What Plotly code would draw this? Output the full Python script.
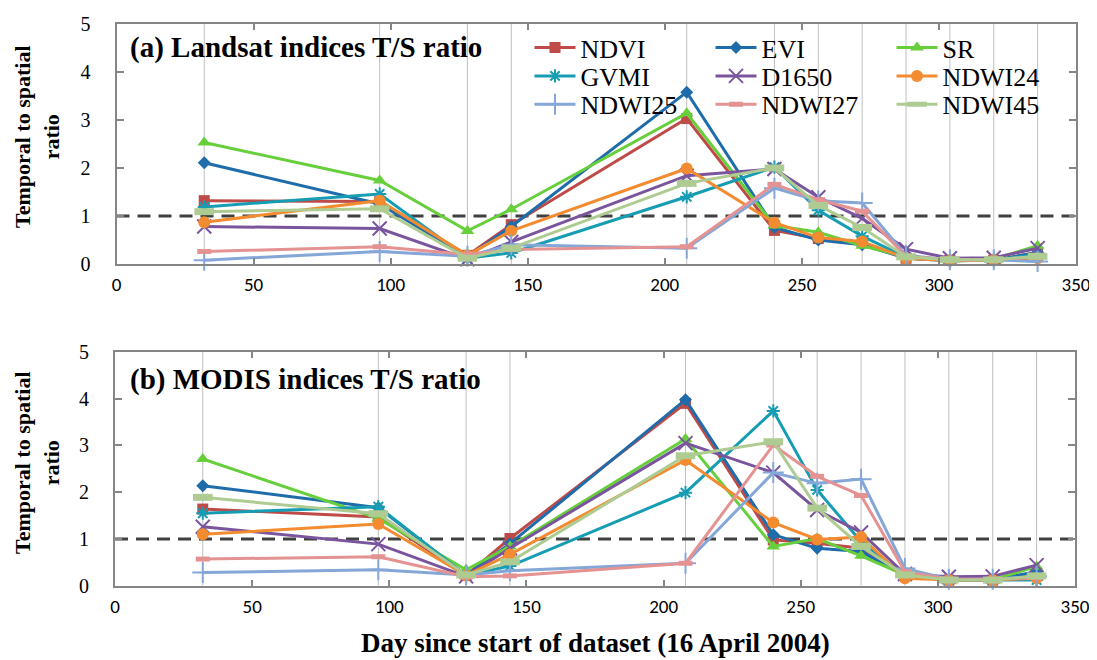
import plotly.graph_objects as go

# page body has an 8px default margin: lay the figure out in reference pixels minus that offset
OFF = 8
W, H = 1097 - OFF, 660 - OFF

DAYS = [32, 96, 128, 144, 208, 240, 256, 272, 288, 304, 320, 336]
SERIES = ["NDVI", "EVI", "SR", "GVMI", "D1650", "NDWI24", "NDWI25", "NDWI27", "NDWI45"]

# (a) Landsat T/S ratio
L_NDVI = [1.32, 1.30, 0.18, 0.82, 3.03, 0.70, 0.53, 0.45, 0.12, 0.08, 0.08, 0.24]
L_EVI = [2.11, 1.25, 0.15, 0.78, 3.58, 0.76, 0.50, 0.40, 0.12, 0.07, 0.08, 0.24]
L_SR = [2.53, 1.74, 0.69, 1.14, 3.14, 0.80, 0.66, 0.38, 0.15, 0.08, 0.10, 0.38]
L_GVMI = [1.19, 1.46, 0.12, 0.23, 1.40, 2.02, 1.12, 0.58, 0.14, 0.07, 0.08, 0.20]
L_D1650 = [0.78, 0.74, 0.10, 0.46, 1.84, 1.98, 1.39, 0.95, 0.31, 0.12, 0.13, 0.33]
L_NDWI24 = [0.87, 1.32, 0.18, 0.69, 1.99, 0.86, 0.55, 0.47, 0.12, 0.07, 0.08, 0.12]
L_NDWI25 = [0.08, 0.26, 0.16, 0.40, 0.33, 1.58, 1.32, 1.27, 0.18, 0.09, 0.09, 0.05]
L_NDWI27 = [0.26, 0.36, 0.20, 0.30, 0.36, 1.66, 1.34, 1.10, 0.16, 0.09, 0.09, 0.15]
L_NDWI45 = [1.09, 1.15, 0.12, 0.33, 1.68, 2.00, 1.22, 0.76, 0.15, 0.09, 0.09, 0.16]

# (b) MODIS T/S ratio
M_NDVI = [1.64, 1.47, 0.22, 1.01, 3.90, 0.98, 0.91, 0.80, 0.22, 0.12, 0.12, 0.25]
M_EVI = [2.14, 1.67, 0.22, 0.90, 3.98, 1.09, 0.80, 0.73, 0.22, 0.12, 0.12, 0.30]
M_SR = [2.71, 1.44, 0.34, 0.84, 3.14, 0.84, 1.01, 0.64, 0.23, 0.12, 0.13, 0.41]
M_GVMI = [1.55, 1.69, 0.22, 0.42, 1.99, 3.74, 2.05, 0.94, 0.22, 0.12, 0.12, 0.12]
M_D1650 = [1.26, 0.89, 0.20, 0.80, 3.05, 2.42, 1.62, 1.14, 0.25, 0.19, 0.20, 0.44]
M_NDWI24 = [1.10, 1.32, 0.22, 0.67, 2.69, 1.35, 0.99, 1.04, 0.16, 0.12, 0.12, 0.16]
M_NDWI25 = [0.28, 0.34, 0.23, 0.32, 0.48, 2.42, 2.19, 2.28, 0.37, 0.14, 0.14, 0.20]
M_NDWI27 = [0.57, 0.62, 0.19, 0.21, 0.48, 3.01, 2.34, 1.93, 0.30, 0.14, 0.14, 0.17]
M_NDWI45 = [1.89, 1.54, 0.23, 0.51, 2.78, 3.08, 1.66, 0.84, 0.23, 0.12, 0.12, 0.21]

LANDSAT = [L_NDVI, L_EVI, L_SR, L_GVMI, L_D1650, L_NDWI24, L_NDWI25, L_NDWI27, L_NDWI45]
MODIS = [M_NDVI, M_EVI, M_SR, M_GVMI, M_D1650, M_NDWI24, M_NDWI25, M_NDWI27, M_NDWI45]
THRESHOLD = 1
X_TICKS = [0, 50, 100, 150, 200, 250, 300, 350]
Y_TICKS = [0, 1, 2, 3, 4, 5]

SERIF = "Liberation Serif, Times New Roman, serif"
SANS = "Carlito, Lato, sans-serif"
AX = "#868686"

STYLE = {
    "NDVI": dict(color="#BE4B48", symbol="square", size=11, lw=0, lc=None),
    "EVI": dict(color="#1F6CAA", symbol="diamond", size=10, lw=0, lc=None),
    "SR": dict(color="#68CF3C", symbol="triangle-up", size=12, lw=0, lc=None),
    "GVMI": dict(color="#179DB3", symbol="asterisk-open", size=11, lw=2, lc="#17485A"),
    "D1650": dict(color="#7A559E", symbol="x-thin-open", size=14, lw=2, lc="#7A559E"),
    "NDWI24": dict(color="#F38B30", symbol="circle", size=12, lw=0, lc=None),
    "NDWI25": dict(color="#85A7D8", symbol="cross-thin-open", size=15, lw=2, lc="#85A7D8"),
    "NDWI27": dict(color="#E49292", symbol="line-ew-open", size=10, lw=5, lc="#E49292"),
    "NDWI45": dict(color="#AECB92", symbol="line-ew-open", size=14, lw=7, lc="#AECB92"),
}


def px_x(p):
    return (p - OFF) / W


def px_y(p):
    return 1 - (p - OFF) / H


# legend layout: columns (line-centre px) and rows (centre px), reference pixels
COL_X = [549.5, 730.5, 911.5]
ROW_Y = [47.7, 76.0, 104.3]

fig = go.Figure()

for panel, (data, xa, ya) in enumerate([(LANDSAT, "x", "y"), (MODIS, "x2", "y2")]):
    for i, (name, vals) in enumerate(zip(SERIES, data)):
        st = STYLE[name]
        marker = dict(color=st["color"], symbol=st["symbol"], size=st["size"])
        if st["lw"]:
            marker["line"] = dict(width=st["lw"], color=st["lc"])
        else:
            marker["line"] = dict(width=0)
        kw = {}
        if panel == 0:
            kw["legend"] = "legend" if i == 0 else f"legend{i + 1}"
            kw["showlegend"] = True
        else:
            kw["showlegend"] = False
        fig.add_trace(go.Scatter(
            x=DAYS, y=vals, name=name, mode="lines+markers",
            line=dict(color=st["color"], width=3),
            marker=marker, xaxis=xa, yaxis=ya, cliponaxis=False, **kw))

# legends (one per item, laid out in 3 columns x 3 rows)
for i in range(len(SERIES)):
    r, c = divmod(i, 3)
    key = "legend" if i == 0 else f"legend{i + 1}"
    fig.layout[key] = dict(
        x=px_x(COL_X[c] - 20), y=px_y(ROW_Y[r]), xanchor="left", yanchor="middle",
        bgcolor="rgba(0,0,0,0)", borderwidth=0, itemwidth=41,
        font=dict(family=SERIF, size=26, color="black"),
        tracegroupgap=0,
    )

TOP = dict(x=[116.5, 1076], y=[24, 264])
BOT = dict(x=[115, 1075], y=[352, 585.7])


def xdom(p):
    return [px_x(p["x"][0]), px_x(p["x"][1])]


def ydom(p):
    return [px_y(p["y"][1]), px_y(p["y"][0])]


common_x = dict(range=[0, 350], tickvals=X_TICKS, ticks="inside", ticklen=6, tickwidth=2,
                tickcolor=AX, showline=True, linecolor=AX, linewidth=2, mirror="ticks",
                showgrid=False, zeroline=False, ticklabelstandoff=2, automargin=False,
                tickfont=dict(family=SANS, size=19, color="black"))
common_y = dict(range=[0, 5], tickvals=Y_TICKS, ticks="inside", ticklen=7, tickwidth=2,
                tickcolor=AX, showline=True, linecolor=AX, linewidth=2, mirror="ticks",
                showgrid=False, zeroline=False, ticklabelstandoff=20, automargin=False,
                tickfont=dict(family=SERIF, size=20, color="black"))

fig.update_layout(
    width=W, height=H, margin=dict(l=0, r=0, t=0, b=0, autoexpand=False),
    paper_bgcolor="white", plot_bgcolor="white",
    xaxis=dict(domain=xdom(TOP), anchor="y", **common_x),
    yaxis=dict(domain=ydom(TOP), anchor="x", **common_y),
    xaxis2=dict(domain=xdom(BOT), anchor="y2", **common_x),
    yaxis2=dict(domain=ydom(BOT), anchor="x2", **common_y),
)

shapes = []
for xa, ya in [("x", "y"), ("x2", "y2")]:
    for d in DAYS:
        shapes.append(dict(type="line", xref=xa, yref=f"{ya} domain", x0=d, x1=d, y0=0, y1=1,
                           line=dict(color="#BFBFBF", width=1), layer="below"))
    shapes.append(dict(type="line", xref=xa, yref=ya, x0=0, x1=350, y0=THRESHOLD, y1=THRESHOLD,
                       line=dict(color="#404040", width=3, dash="13px,8px"), layer="below"))
fig.update_layout(shapes=shapes)

ann = [
    dict(text="<b>(a) Landsat indices T/S ratio</b>", x=px_x(128), y=px_y(48),
         xanchor="left", yanchor="middle", font=dict(family=SERIF, size=29, color="black")),
    dict(text="<b>(b) MODIS indices T/S ratio</b>", x=px_x(128), y=px_y(379),
         xanchor="left", yanchor="middle", font=dict(family=SERIF, size=29, color="black")),
    dict(text="<b>Temporal to spatial<br>ratio</b>", x=px_x(37), y=px_y(137), textangle=-90,
         xanchor="center", yanchor="middle", font=dict(family=SERIF, size=22, color="black")),
    dict(text="<b>Temporal to spatial<br>ratio</b>", x=px_x(37), y=px_y(463), textangle=-90,
         xanchor="center", yanchor="middle", font=dict(family=SERIF, size=22, color="black")),
    dict(text="<b>Day since start of dataset (16 April 2004)</b>", x=px_x(595), y=px_y(643),
         xanchor="center", yanchor="middle", font=dict(family=SERIF, size=27, color="black")),
]
for a in ann:
    a.update(xref="paper", yref="paper", showarrow=False)
fig.update_layout(annotations=ann)

fig.write_html("out.html")
